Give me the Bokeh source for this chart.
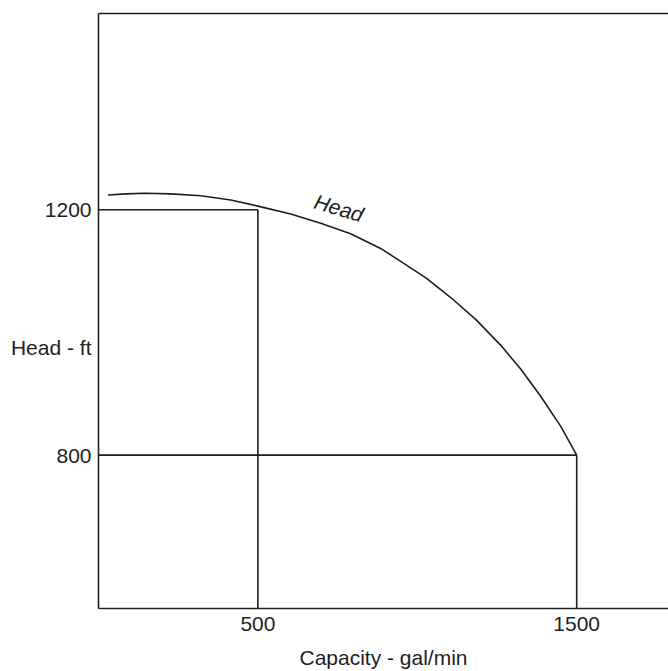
from bokeh.plotting import figure
from bokeh.models import Range1d, FixedTicker, LinearAxis, Label
from bokeh.embed import file_html
from bokeh.resources import INLINE

# Data
capacity = [30, 86, 143, 227, 321, 415, 500, 603, 697, 791, 885, 948, 1027, 1105,
            1184, 1262, 1325, 1387, 1450, 1500]
head = [1224, 1226, 1227, 1226, 1223, 1216, 1206, 1193, 1178, 1161, 1137, 1116, 1089, 1057,
        1021, 979, 940, 896, 847, 800]
op_points_q = [500, 1500]
op_points_h = [1200, 800]
x_ticks = [500, 1500]
y_ticks = [800, 1200]
y_title_pos = 976
y_title = "Head - ft"
x_title = "Capacity - gal/min"
curve_label = "Head"

X0, X1 = 0, 1788
Y0, Y1 = 550, 1520
INK = "#1e1e1e"
FONT = "Liberation Sans"
FS = "21px"

p = figure(width=668, height=671, output_backend="svg", toolbar_location=None,
           x_range=Range1d(X0, X1), y_range=Range1d(Y0, Y1),
           min_border_left=98, min_border_right=0, min_border_top=13, min_border_bottom=61,
           x_axis_type=None, y_axis_type=None)
p.outline_line_color = None
p.xgrid.visible = False
p.ygrid.visible = False
p.background_fill_color = "white"
p.border_fill_color = "white"

xa = LinearAxis(ticker=FixedTicker(ticks=x_ticks), axis_label=x_title)
ya = LinearAxis(ticker=FixedTicker(ticks=y_ticks + [y_title_pos]),
                major_label_overrides={y_title_pos: y_title})
for ax in (xa, ya):
    ax.axis_line_color = INK
    ax.axis_line_width = 1.6
    ax.major_tick_line_color = None
    ax.minor_tick_line_color = None
    ax.major_tick_out = 0
    ax.major_tick_in = 0
    ax.minor_tick_out = 0
    ax.major_label_text_font = FONT
    ax.major_label_text_font_size = FS
    ax.major_label_text_color = INK
    ax.axis_label_text_font = FONT
    ax.axis_label_text_font_size = FS
    ax.axis_label_text_font_style = "normal"
    ax.axis_label_text_color = INK
xa.major_label_standoff = 8
xa.axis_label_standoff = 12
ya.major_label_standoff = 7
p.add_layout(xa, "below")
p.add_layout(ya, "left")

top = LinearAxis(ticker=FixedTicker(ticks=[]))
top.axis_line_color = INK
top.axis_line_width = 1.6
top.major_tick_line_color = None
top.minor_tick_line_color = None
top.major_tick_out = 0
top.major_label_text_font_size = "0px"
p.add_layout(top, "above")

# Head curve
p.line(capacity, head, line_color=INK, line_width=1.6, line_join="round")

# Construction lines
for q, h in zip(op_points_q, op_points_h):
    p.line([X0, q], [h, h], line_color=INK, line_width=1.6)
    p.line([q, q], [Y0, h], line_color=INK, line_width=1.6)

p.add_layout(Label(x=754, y=1203, text=curve_label, angle=-0.29,
                   text_font=FONT, text_font_size=FS, text_font_style="italic",
                   text_color=INK, text_align="center", text_baseline="middle"))

open("out.html", "w").write(file_html(p, INLINE))
